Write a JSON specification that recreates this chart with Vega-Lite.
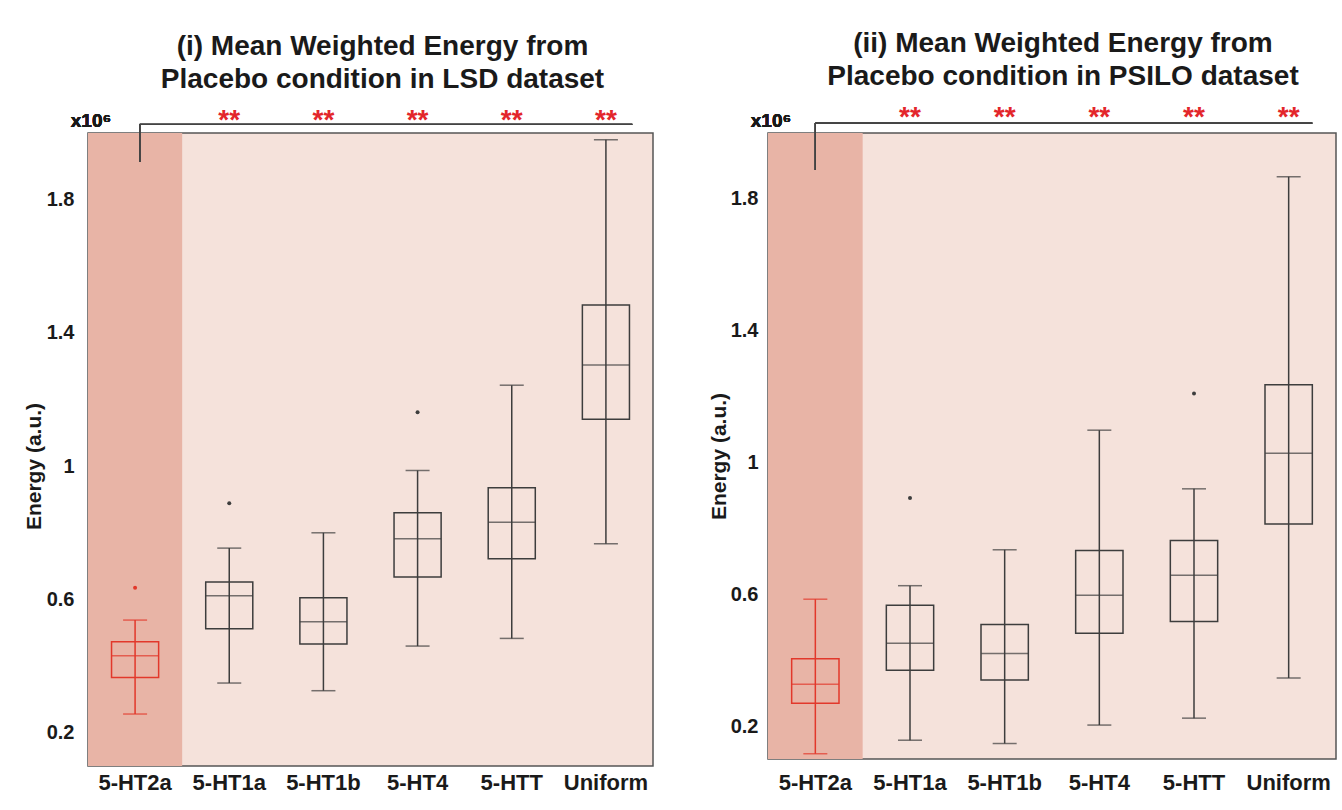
{
  "$schema": "https://vega.github.io/schema/vega-lite/v6.json",
  "background": "white",
  "padding": {"left": 22, "top": 29, "right": 5, "bottom": 5},
  "spacing": 53,
  "config": {
    "font": "Liberation Sans",
    "view": {"fill": "#F5E2DB", "stroke": "#555555", "strokeWidth": 1.5},
    "axis": {"grid": false, "ticks": false, "domain": false, "labelFontSize": 20, "labelFontWeight": "bold", "labelColor": "#1a1a1a", "titleFontSize": 21, "titleFontWeight": "bold", "titleColor": "#1a1a1a"},
    "axisX": {"labelFontSize": 22},
    "title": {"fontSize": 28, "fontWeight": "bold", "color": "#1a1a1a", "lineHeight": 33, "anchor": "middle", "frame": "group", "offset": 13}
  },
  "datasets": {
    "lsd": [
      {"receptor": "5-HT2a", "lower": 0.256, "q1": 0.366, "median": 0.431, "q3": 0.473, "upper": 0.538, "grp": "target"},
      {"receptor": "5-HT1a", "lower": 0.349, "q1": 0.512, "median": 0.611, "q3": 0.652, "upper": 0.754, "grp": "other"},
      {"receptor": "5-HT1b", "lower": 0.326, "q1": 0.466, "median": 0.533, "q3": 0.605, "upper": 0.800, "grp": "other"},
      {"receptor": "5-HT4", "lower": 0.460, "q1": 0.667, "median": 0.782, "q3": 0.860, "upper": 0.987, "grp": "other"},
      {"receptor": "5-HTT", "lower": 0.483, "q1": 0.722, "median": 0.832, "q3": 0.935, "upper": 1.243, "grp": "other"},
      {"receptor": "Uniform", "lower": 0.767, "q1": 1.141, "median": 1.304, "q3": 1.484, "upper": 1.980, "grp": "other"}
    ],
    "lsdOut": [
      {"receptor": "5-HT2a", "value": 0.635, "grp": "target"},
      {"receptor": "5-HT1a", "value": 0.889, "grp": "other"},
      {"receptor": "5-HT4", "value": 1.162, "grp": "other"}
    ],
    "psilo": [
      {"receptor": "5-HT2a", "lower": 0.116, "q1": 0.269, "median": 0.327, "q3": 0.404, "upper": 0.585, "grp": "target"},
      {"receptor": "5-HT1a", "lower": 0.157, "q1": 0.369, "median": 0.451, "q3": 0.567, "upper": 0.626, "grp": "other"},
      {"receptor": "5-HT1b", "lower": 0.147, "q1": 0.340, "median": 0.420, "q3": 0.508, "upper": 0.735, "grp": "other"},
      {"receptor": "5-HT4", "lower": 0.203, "q1": 0.482, "median": 0.597, "q3": 0.733, "upper": 1.098, "grp": "other"},
      {"receptor": "5-HTT", "lower": 0.224, "q1": 0.517, "median": 0.658, "q3": 0.763, "upper": 0.920, "grp": "other"},
      {"receptor": "Uniform", "lower": 0.346, "q1": 0.813, "median": 1.028, "q3": 1.236, "upper": 1.867, "grp": "other"}
    ],
    "psiloOut": [
      {"receptor": "5-HT1a", "value": 0.892, "grp": "other"},
      {"receptor": "5-HTT", "value": 1.209, "grp": "other"}
    ]
  },
  "hconcat": [
    {
      "width": 565, "height": 633,
      "title": {"text": ["(i) Mean Weighted Energy from", "Placebo condition in LSD dataset"], "dx": 12},
      "data": {"name": "lsd"},
      "encoding": {
        "x": {"field": "receptor", "type": "nominal", "sort": ["5-HT2a", "5-HT1a", "5-HT1b", "5-HT4", "5-HTT", "Uniform"], "scale": {"type": "band", "paddingInner": 0, "paddingOuter": 0}, "axis": {"title": null, "labelAngle": 0, "labelPadding": 6}}
      },
      "layer": [
        {"transform": [{"filter": "datum.grp === 'target'"}], "mark": {"type": "rect", "color": "#E8B4A6"}, "encoding": {"y": {"datum": 0.1, "type": "quantitative", "scale": {"domain": [0.1, 2.0], "nice": false, "zero": false}, "axis": {"title": "Energy (a.u.)", "values": [0.2, 0.6, 1, 1.4, 1.8], "format": "~g", "labelPadding": 14, "titlePadding": 2, "titleY": 333}}, "y2": {"datum": 2.0}}},
        {"mark": {"type": "rule", "strokeWidth": 1.5}, "encoding": {"y": {"field": "lower", "type": "quantitative"}, "y2": {"field": "upper"}, "color": {"field": "grp", "type": "nominal", "scale": {"domain": ["target", "other"], "range": ["#E2382B", "#3d3d3d"]}, "legend": null}}},
        {"mark": {"type": "tick", "size": 24, "thickness": 1.5}, "encoding": {"y": {"field": "lower", "type": "quantitative"}, "color": {"field": "grp", "type": "nominal", "legend": null}}},
        {"mark": {"type": "tick", "size": 24, "thickness": 1.5}, "encoding": {"y": {"field": "upper", "type": "quantitative"}, "color": {"field": "grp", "type": "nominal", "legend": null}}},
        {"mark": {"type": "bar", "filled": false, "strokeWidth": 1.5, "width": {"band": 0.5}}, "encoding": {"y": {"field": "q1", "type": "quantitative"}, "y2": {"field": "q3"}, "color": {"field": "grp", "type": "nominal", "legend": null}}},
        {"mark": {"type": "tick", "size": 47, "thickness": 1.5}, "encoding": {"y": {"field": "median", "type": "quantitative"}, "color": {"field": "grp", "type": "nominal", "legend": null}}},
        {"data": {"name": "lsdOut"}, "mark": {"type": "circle", "size": 16, "opacity": 1}, "encoding": {"y": {"field": "value", "type": "quantitative"}, "color": {"field": "grp", "type": "nominal", "legend": null}}},
        {"transform": [{"filter": "datum.grp !== 'target'"}], "mark": {"type": "text", "text": "**", "color": "#E3262B", "fontSize": 28, "fontWeight": "bold", "baseline": "middle", "dy": 9}, "encoding": {"y": {"datum": 2.062}}},
        {"mark": {"type": "rule", "color": "#444444", "strokeWidth": 1.3}, "encoding": {"x": {"datum": "5-HT2a", "bandPosition": 0.55}, "y": {"datum": 2.026}, "y2": {"datum": 1.913}}},
        {"mark": {"type": "rule", "color": "#444444", "strokeWidth": 1.3}, "encoding": {"x": {"datum": "5-HT2a", "bandPosition": 0.55}, "x2": {"datum": "Uniform", "bandPosition": 0.78}, "y": {"datum": 2.026}}},
        {"mark": {"type": "text", "text": "x10⁶", "fontSize": 19, "fontWeight": "bold", "color": "#1a1a1a", "align": "center", "baseline": "bottom", "dx": 3, "dy": -2}, "encoding": {"x": {"datum": "5-HT2a", "bandPosition": 0}, "y": {"datum": 2.0}}}
      ]
    },
    {
      "width": 568, "height": 626,
      "title": {"text": ["(ii) Mean Weighted Energy from", "Placebo condition in PSILO dataset"], "dx": 11},
      "data": {"name": "psilo"},
      "encoding": {
        "x": {"field": "receptor", "type": "nominal", "sort": ["5-HT2a", "5-HT1a", "5-HT1b", "5-HT4", "5-HTT", "Uniform"], "scale": {"type": "band", "paddingInner": 0, "paddingOuter": 0}, "axis": {"title": null, "labelAngle": 0, "labelPadding": 13}}
      },
      "layer": [
        {"transform": [{"filter": "datum.grp === 'target'"}], "mark": {"type": "rect", "color": "#E8B4A6"}, "encoding": {"y": {"datum": 0.1, "type": "quantitative", "scale": {"domain": [0.1, 2.0], "nice": false, "zero": false}, "axis": {"title": "Energy (a.u.)", "values": [0.2, 0.6, 1, 1.4, 1.8], "format": "~g", "labelPadding": 10, "titlePadding": 1, "titleY": 323}}, "y2": {"datum": 2.0}}},
        {"mark": {"type": "rule", "strokeWidth": 1.5}, "encoding": {"y": {"field": "lower", "type": "quantitative"}, "y2": {"field": "upper"}, "color": {"field": "grp", "type": "nominal", "scale": {"domain": ["target", "other"], "range": ["#E2382B", "#3d3d3d"]}, "legend": null}}},
        {"mark": {"type": "tick", "size": 24, "thickness": 1.5}, "encoding": {"y": {"field": "lower", "type": "quantitative"}, "color": {"field": "grp", "type": "nominal", "legend": null}}},
        {"mark": {"type": "tick", "size": 24, "thickness": 1.5}, "encoding": {"y": {"field": "upper", "type": "quantitative"}, "color": {"field": "grp", "type": "nominal", "legend": null}}},
        {"mark": {"type": "bar", "filled": false, "strokeWidth": 1.5, "width": {"band": 0.5}}, "encoding": {"y": {"field": "q1", "type": "quantitative"}, "y2": {"field": "q3"}, "color": {"field": "grp", "type": "nominal", "legend": null}}},
        {"mark": {"type": "tick", "size": 47, "thickness": 1.5}, "encoding": {"y": {"field": "median", "type": "quantitative"}, "color": {"field": "grp", "type": "nominal", "legend": null}}},
        {"data": {"name": "psiloOut"}, "mark": {"type": "circle", "size": 16, "opacity": 1}, "encoding": {"y": {"field": "value", "type": "quantitative"}, "color": {"field": "grp", "type": "nominal", "legend": null}}},
        {"transform": [{"filter": "datum.grp !== 'target'"}], "mark": {"type": "text", "text": "**", "color": "#E3262B", "fontSize": 28, "fontWeight": "bold", "baseline": "middle", "dy": 9}, "encoding": {"y": {"datum": 2.072}}},
        {"mark": {"type": "rule", "color": "#444444", "strokeWidth": 1.3}, "encoding": {"x": {"datum": "5-HT2a", "bandPosition": 0.5}, "y": {"datum": 2.030}, "y2": {"datum": 1.888}}},
        {"mark": {"type": "rule", "color": "#444444", "strokeWidth": 1.3}, "encoding": {"x": {"datum": "5-HT2a", "bandPosition": 0.5}, "x2": {"datum": "Uniform", "bandPosition": 0.75}, "y": {"datum": 2.030}}},
        {"mark": {"type": "text", "text": "x10⁶", "fontSize": 19, "fontWeight": "bold", "color": "#1a1a1a", "align": "center", "baseline": "bottom", "dx": 3, "dy": -2}, "encoding": {"x": {"datum": "5-HT2a", "bandPosition": 0}, "y": {"datum": 2.0}}}
      ]
    }
  ]
}
